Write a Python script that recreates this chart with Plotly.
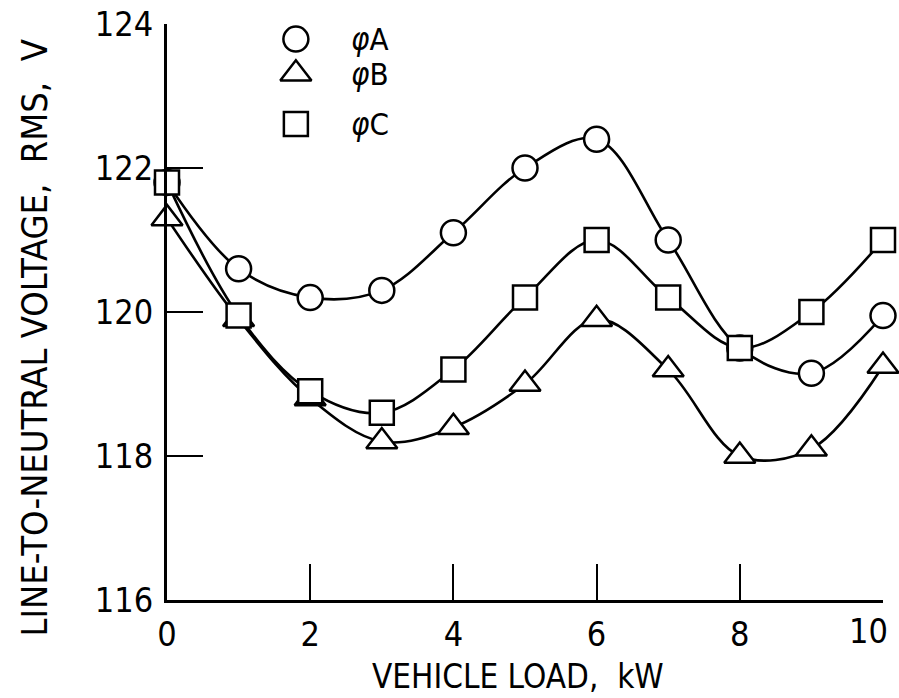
import plotly.graph_objects as go

# ---- data ----
load_kw = [0, 1, 2, 3, 4, 5, 6, 7, 8, 9, 10]
phase_a = [121.8, 120.6, 120.2, 120.3, 121.1, 122.0, 122.4, 121.0, 119.5, 119.15, 119.95]
phase_b = [121.3, 119.9, 118.8, 118.2, 118.4, 119.0, 119.9, 119.2, 118.0, 118.1, 119.25]
phase_c = [121.8, 119.95, 118.9, 118.6, 119.2, 120.2, 121.0, 120.2, 119.5, 120.0, 121.0]
series_names = ["<i>φ</i>A", "<i>φ</i>B", "<i>φ</i>C"]
x_ticks = [0, 2, 4, 6, 8, 10]
x_tick_labels = ["0", "2", "4", "6", "8", ""]
last_x_label = "10"
y_ticks = [116, 118, 120, 122, 124]

FONT = "Liberation Sans Narrow, DejaVu Sans Condensed, Arial Narrow, sans-serif"
symbols = ["circle", "triangle-up", "square"]
sizes = [25, 27, 24]
series = [phase_a, phase_b, phase_c]

fig = go.Figure()
# curves first
for ys in series:
    fig.add_trace(go.Scatter(x=load_kw, y=ys, mode="lines",
                             line=dict(color="black", width=2.6, shape="spline", smoothing=1.0),
                             showlegend=False, hoverinfo="skip", cliponaxis=False))
# markers on top
for ys, sym, sz in zip(series, symbols, sizes):
    fig.add_trace(go.Scatter(x=load_kw, y=ys, mode="markers",
                             marker=dict(symbol=sym, size=sz, color="white",
                                         line=dict(color="black", width=2.5)),
                             showlegend=False, cliponaxis=False))

# custom key (upper left)
key_x = 1.8
key_y = [123.79, 123.31, 122.61]
for yk, sym, sz, name in zip(key_y, symbols, sizes, series_names):
    fig.add_trace(go.Scatter(x=[key_x], y=[yk], mode="markers",
                             marker=dict(symbol=sym, size=sz, color="white",
                                         line=dict(color="black", width=2.5)),
                             showlegend=False, cliponaxis=False))
    fig.add_annotation(x=key_x + 0.74, y=yk, xref="x", yref="y", text=name,
                       showarrow=False, xanchor="left", yanchor="middle",
                       font=dict(family=FONT, size=31, color="black"))

# last x tick label, nudged left so it stays inside the page
fig.add_annotation(x=x_ticks[-1], y=0, xref="x", yref="paper", text=last_x_label,
                   showarrow=False, xanchor="right", yanchor="top",
                   xshift=6, yshift=-10, borderpad=0,
                   font=dict(family=FONT, size=34, color="black"))

fig.add_annotation(x=0.49, y=-0.095, xref="paper", yref="paper",
                   text="VEHICLE LOAD,  kW", showarrow=False,
                   xanchor="center", yanchor="top",
                   font=dict(family=FONT, size=33, color="black"))
fig.add_annotation(x=-0.185, y=0.455, xref="paper", yref="paper",
                   text="LINE-TO-NEUTRAL VOLTAGE,  RMS,  V", showarrow=False,
                   textangle=-90, xanchor="center", yanchor="middle",
                   font=dict(family=FONT, size=36, color="black"))

axis_common = dict(showgrid=False, zeroline=False, showline=True, linecolor="black",
                   linewidth=3, ticks="inside", ticklen=36, tickwidth=2, tickcolor="black",
                   tickfont=dict(family=FONT, size=34, color="black"), mirror=False,
                   ticklabeloverflow="allow", automargin=False)

fig.update_layout(
    width=899, height=698,
    margin=dict(l=167, r=16, t=24, b=98),
    paper_bgcolor="white", plot_bgcolor="white",
    xaxis=dict(range=[0, 10], tickvals=x_ticks, ticktext=x_tick_labels,
               ticklabelstandoff=2, **axis_common),
    yaxis=dict(range=[116, 124], tickvals=y_ticks, ticklabelstandoff=4, **axis_common),
    showlegend=False,
)

fig.write_html("out.html")
